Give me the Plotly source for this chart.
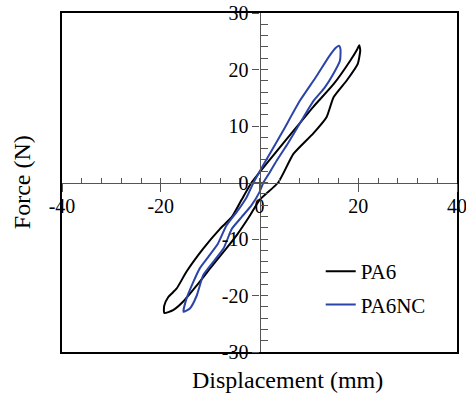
import plotly.graph_objects as go

# ---- data ----
pa6_x = [-19.3, -19.3, -18.5, -16.8, -14.8, -11.4, -8.0, -5.6, -3.6, -1.6, 0.0, 2.8, 7.5, 10.9, 15.0, 18.4, 19.8, 20.2,
         20.4, 19.9, 17.7, 15.0, 13.6, 10.9, 6.9, 3.8, 0.0, -1.9, -4.6, -7.3, -10.0, -12.7, -15.5, -17.5, -19.3]
pa6_y = [-23.1, -21.8, -20.3, -18.8, -15.8, -11.7, -8.2, -6.1, -3.0, 0.0, 1.8, 4.8, 9.8, 13.4, 17.4, 21.6, 23.6, 24.3,
         23.4, 21.0, 18.1, 15.1, 11.6, 8.7, 5.1, 0.0, -3.1, -5.8, -9.3, -12.3, -15.2, -18.2, -21.1, -22.6, -23.1]

pa6nc_x = [-15.4, -14.8, -13.4, -12.1, -10.4, -8.4, -6.7, -4.6, -2.6, -1.2, 0.0, 1.5, 4.8, 8.2, 11.6, 14.0, 15.4, 16.1,
           16.4, 16.3, 15.0, 13.2, 10.9, 8.4, 5.8, 3.5, 1.8, 0.8, 0.0, -1.6, -3.6, -5.6, -7.3, -9.4, -11.4, -12.7, -14.1, -15.4]
pa6nc_y = [-22.9, -20.6, -17.6, -15.2, -13.2, -10.8, -7.6, -5.2, -2.6, 0.0, 1.9, 4.2, 9.2, 14.5, 18.9, 22.2, 23.8, 24.2,
           23.6, 21.6, 19.3, 16.8, 14.4, 10.8, 7.0, 3.9, 1.4, 0.0, -1.7, -4.0, -6.1, -8.2, -11.7, -14.1, -16.4, -20.0, -22.3, -22.9]

x_tickvals = [-40, -20, 0, 20, 40]
x_ticktext = ["-40", "-20", "0", "20", "40"]
y_tickvals = [-30, -20, -10, 0, 10, 20, 30]
y_ticktext = ["-30", "-20", "-10", "0", "10", "20", "30"]
x_range = [-40, 40]
y_range = [-30, 30]

FONT = "Times New Roman, Liberation Serif, serif"
AXC = "#555555"

fig = go.Figure()
fig.add_trace(go.Scatter(x=pa6_x, y=pa6_y, mode="lines", name="PA6", legendgroup="a",
                         line=dict(color="#000000", width=2, shape="spline", smoothing=0.5)))
fig.add_trace(go.Scatter(x=pa6nc_x, y=pa6nc_y, mode="lines", name="PA6NC", legendgroup="b",
                         line=dict(color="#2b44a8", width=2, shape="spline", smoothing=0.5)))
# empty traces so the overlaid centre axes get drawn
for xa, ya in (("x2", "y2"), ("x3", "y3")):
    fig.add_trace(go.Scatter(x=[None], y=[None], xaxis=xa, yaxis=ya, showlegend=False,
                             hoverinfo="skip", mode="lines"))

frame = dict(range=x_range, showline=True, mirror=True, linecolor="black", linewidth=1.5,
             ticks="", showticklabels=False, showgrid=False, zeroline=False, fixedrange=True)

fig.update_layout(
    width=466, height=396,
    margin=dict(l=62, r=9, t=13, b=44, autoexpand=False),
    paper_bgcolor="white", plot_bgcolor="white",
    font=dict(family=FONT, size=20, color="black"),
    xaxis=dict(frame),
    yaxis=dict(frame, range=y_range),
    xaxis2=dict(overlaying="x", anchor="free", position=0.5, range=x_range,
                showline=True, linecolor=AXC, linewidth=1.2,
                ticks="outside", ticklen=8, tickwidth=1.2, tickcolor=AXC,
                tickmode="array", tickvals=x_tickvals, ticktext=x_ticktext,
                tickfont=dict(family=FONT, size=20, color="black"),
                ticklabeloverflow="allow", ticklabelstandoff=-3,
                showgrid=False, zeroline=False, automargin=False),
    xaxis3=dict(overlaying="x", anchor="free", position=0.5, range=x_range,
                showline=False, ticks="inside", ticklen=5, tickwidth=1.2, tickcolor=AXC,
                dtick=4, tick0=0, showticklabels=False, showgrid=False, zeroline=False),
    yaxis2=dict(overlaying="y", anchor="free", position=0.5, range=y_range, side="left",
                showline=True, linecolor=AXC, linewidth=1.2,
                ticks="outside", ticklen=7, tickwidth=1.2, tickcolor=AXC,
                tickmode="array", tickvals=y_tickvals, ticktext=y_ticktext,
                tickfont=dict(family=FONT, size=20, color="black"),
                ticklabeloverflow="allow",
                showgrid=False, zeroline=False, automargin=False),
    yaxis3=dict(overlaying="y", anchor="free", position=0.5, range=y_range, side="left",
                showline=False, ticks="inside", ticklen=7, tickwidth=1.2, tickcolor=AXC,
                dtick=2, tick0=0, showticklabels=False, showgrid=False, zeroline=False),
    legend=dict(x=0.655, y=0.298, xanchor="left", yanchor="top",
                font=dict(family=FONT, size=21, color="black"),
                bgcolor="rgba(0,0,0,0)", tracegroupgap=3, itemwidth=30),
    annotations=[
        dict(text="Displacement (mm)", xref="paper", yref="paper", x=0.57, y=-0.083,
             showarrow=False, font=dict(family=FONT, size=24, color="black"),
             xanchor="center", yanchor="middle"),
        dict(text="Force (N)", xref="paper", yref="paper", x=-0.102, y=0.5, textangle=-90,
             showarrow=False, font=dict(family=FONT, size=24, color="black"),
             xanchor="center", yanchor="middle"),
    ],
)

fig.write_html("out.html")
